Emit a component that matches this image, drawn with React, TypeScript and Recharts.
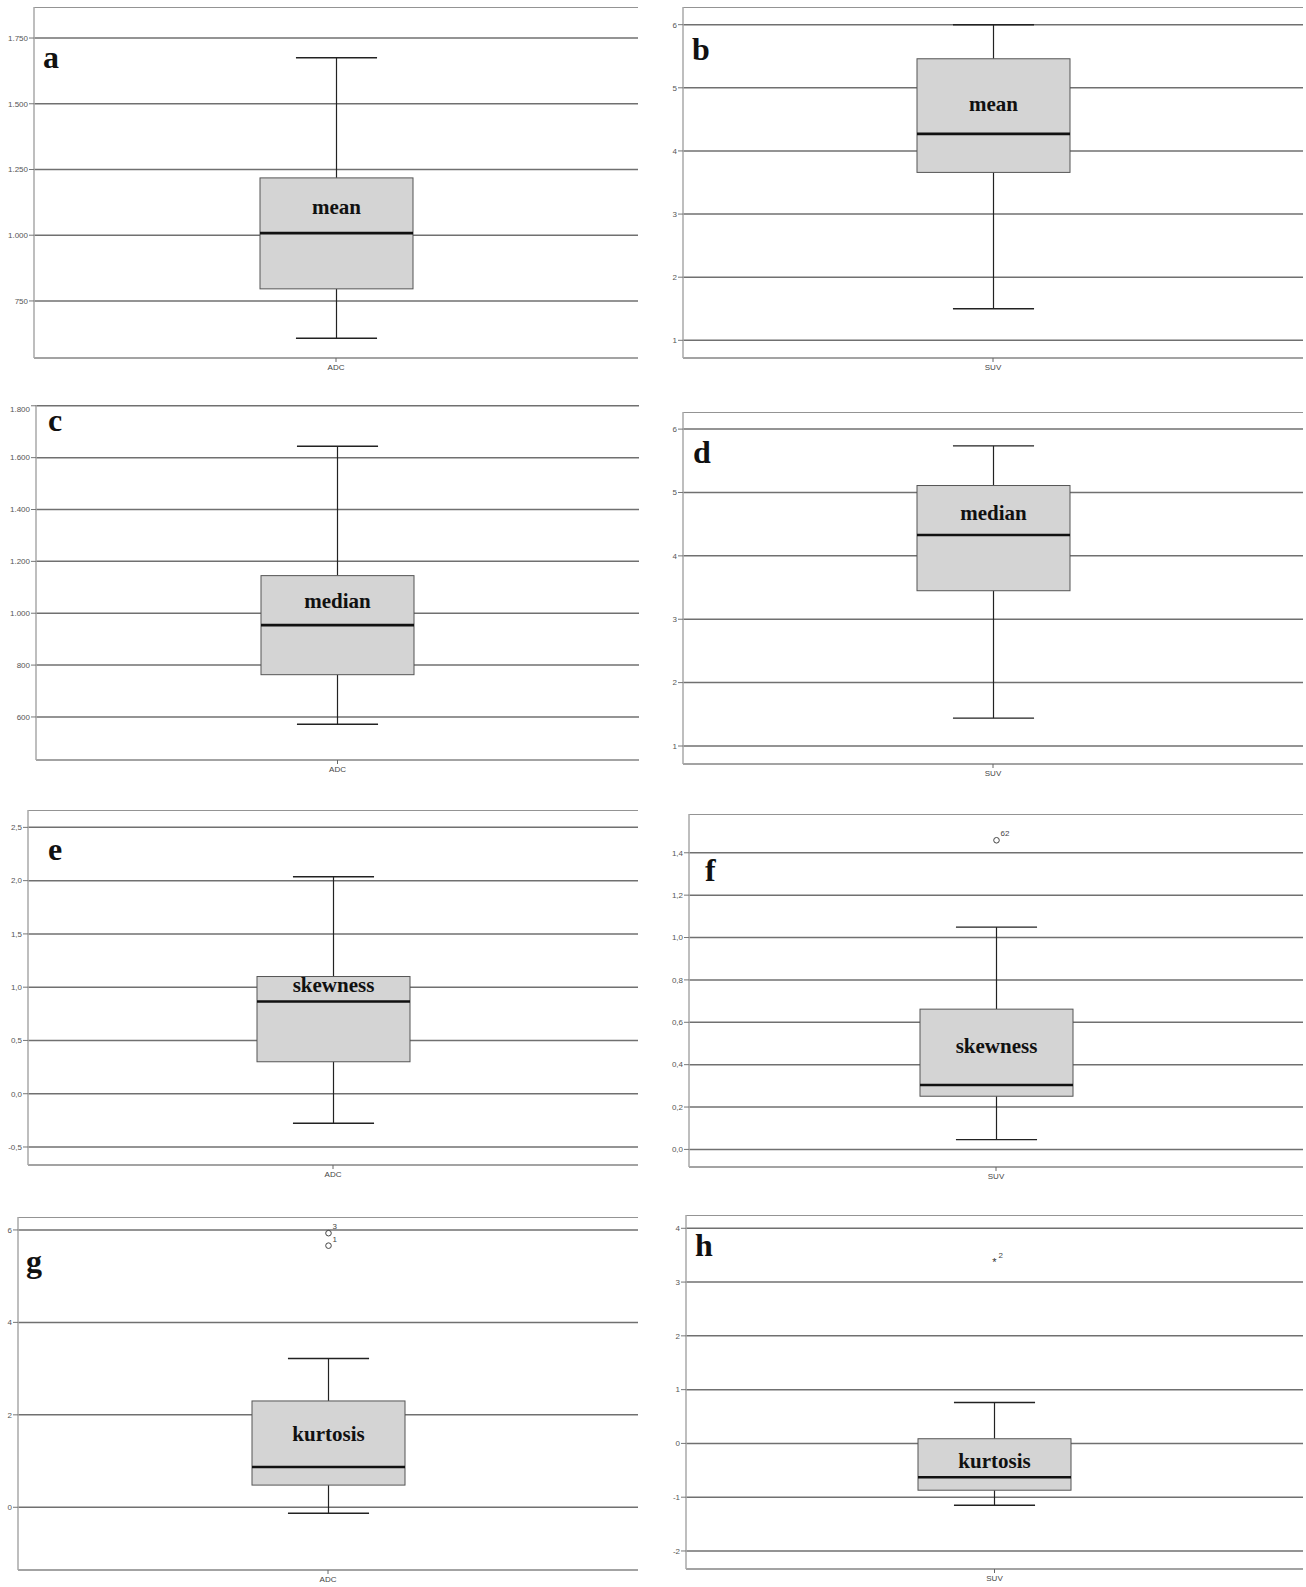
import React from 'react';
import { ComposedChart, Bar, XAxis, YAxis, CartesianGrid } from 'recharts';

// ---------- data ----------
const panelLetters = ['a', 'b', 'c', 'd', 'e', 'f', 'g', 'h'];
const boxLabels = ['mean', 'mean', 'median', 'median', 'skewness', 'skewness', 'kurtosis', 'kurtosis'];
const categoryNames = ['ADC', 'SUV', 'ADC', 'SUV', 'ADC', 'SUV', 'ADC', 'SUV'];

const whiskerLow = [608, 1.5, 572, 1.44, -0.277, 0.046, -0.13, -1.15];
const q1Values = [796, 3.66, 763, 3.45, 0.3, 0.251, 0.48, -0.87];
const medians = [1008, 4.27, 954, 4.33, 0.865, 0.304, 0.87, -0.63];
const q3Values = [1218, 5.46, 1145, 5.11, 1.1, 0.662, 2.3, 0.087];
const whiskerHigh = [1675, 6.0, 1644, 5.735, 2.036, 1.049, 3.22, 0.76];
const boxLabelValues = [1108, 4.75, 1047, 4.68, 1.018, 0.49, 1.595, -0.33];

type Outlier = { value: number; id: string; mark: 'circle' | 'star' };
const outliersF: Outlier[] = [{ value: 1.459, id: '62', mark: 'circle' }];
const outliersG: Outlier[] = [
  { value: 5.93, id: '3', mark: 'circle' },
  { value: 5.66, id: '1', mark: 'circle' },
];
const outliersH: Outlier[] = [{ value: 3.38, id: '2', mark: 'star' }];
const outliers: Outlier[][] = [[], [], [], [], [], outliersF, outliersG, outliersH];

const yDomains: [number, number][] = [
  [533, 1868],
  [0.72, 6.28],
  [434, 1803],
  [0.716, 6.27],
  [-0.669, 2.663],
  [-0.083, 1.583],
  [-1.357, 6.28],
  [-2.335, 4.247],
];

const tickValues: number[][] = [
  [750, 1000, 1250, 1500, 1750],
  [1, 2, 3, 4, 5, 6],
  [600, 800, 1000, 1200, 1400, 1600, 1800],
  [1, 2, 3, 4, 5, 6],
  [-0.5, 0, 0.5, 1, 1.5, 2, 2.5],
  [0, 0.2, 0.4, 0.6, 0.8, 1.0, 1.2, 1.4],
  [0, 2, 4, 6],
  [-2, -1, 0, 1, 2, 3, 4],
];
const tickLabels: string[][] = [
  ['750', '1.000', '1.250', '1.500', '1.750'],
  ['1', '2', '3', '4', '5', '6'],
  ['600', '800', '1.000', '1.200', '1.400', '1.600', '1.800'],
  ['1', '2', '3', '4', '5', '6'],
  ['-0,5', '0,0', '0,5', '1,0', '1,5', '2,0', '2,5'],
  ['0,0', '0,2', '0,4', '0,6', '0,8', '1,0', '1,2', '1,4'],
  ['0', '2', '4', '6'],
  ['-2', '-1', '0', '1', '2', '3', '4'],
];

// ---------- layout (pixels) ----------
const plotRects = [
  { left: 34, right: 638, top: 7, bottom: 358 },
  { left: 683, right: 1303, top: 7, bottom: 358 },
  { left: 36, right: 639, top: 405, bottom: 760 },
  { left: 683, right: 1303, top: 412, bottom: 764 },
  { left: 28, right: 638, top: 810, bottom: 1165 },
  { left: 689, right: 1303, top: 814, bottom: 1167 },
  { left: 18, right: 638, top: 1217, bottom: 1570 },
  { left: 686, right: 1303, top: 1215, bottom: 1569 },
];
const letterPos = [
  { x: 43, y: 68 },
  { x: 692, y: 60 },
  { x: 48, y: 431 },
  { x: 693, y: 463 },
  { x: 48, y: 860 },
  { x: 705, y: 881 },
  { x: 26, y: 1272 },
  { x: 695, y: 1256 },
];

const Y_W = 40;
const X_H = 20;
const SERIF = '"Liberation Serif", "Times New Roman", serif';
const SANS = '"Liberation Sans", Arial, sans-serif';

function BoxShape(props: any) {
  const { x, y, width, height, payload } = props;
  if (!payload) return null;
  const top = Math.min(y, y + height);
  const bottom = Math.max(y, y + height);
  const lo = payload.extentLow;
  const hi = payload.extentHigh;
  const px = (v: number) => bottom - ((v - lo) / (hi - lo)) * (bottom - top);
  const cx = x + width / 2;
  const capHalf = width * 0.265;
  const yLow = px(payload.whiskerLow);
  const yHigh = px(payload.whiskerHigh);
  const yQ1 = px(payload.q1);
  const yQ3 = px(payload.q3);
  const yMed = px(payload.median);
  return (
    <g>
      {/* whiskers */}
      <line x1={cx} x2={cx} y1={yHigh} y2={yQ3} stroke="#222" strokeWidth={1.2} />
      <line x1={cx} x2={cx} y1={yQ1} y2={yLow} stroke="#222" strokeWidth={1.2} />
      <line x1={cx - capHalf} x2={cx + capHalf} y1={yHigh} y2={yHigh} stroke="#222" strokeWidth={1.4} />
      <line x1={cx - capHalf} x2={cx + capHalf} y1={yLow} y2={yLow} stroke="#222" strokeWidth={1.4} />
      {/* box */}
      <rect x={x} y={yQ3} width={width} height={yQ1 - yQ3} fill="#d4d4d4" stroke="#555" strokeWidth={1} />
      <line x1={x} x2={x + width} y1={yMed} y2={yMed} stroke="#111" strokeWidth={2.6} />
      {/* label */}
      <text
        x={cx}
        y={px(payload.labelValue)}
        textAnchor="middle"
        dominantBaseline="central"
        fontFamily={SERIF}
        fontWeight="bold"
        fontSize={21}
        fill="#111"
      >
        {payload.label}
      </text>
      {/* outliers */}
      {payload.outliers.map((o: Outlier, i: number) => {
        const oy = px(o.value);
        return (
          <g key={i}>
            {o.mark === 'circle' ? (
              <circle cx={cx} cy={oy} r={2.8} fill="none" stroke="#444" strokeWidth={1} />
            ) : (
              <text x={cx} y={oy + 4} textAnchor="middle" fontSize={11} fontFamily={SANS} fill="#333">
                *
              </text>
            )}
            <text x={cx + 4} y={oy - 4} fontSize={8} fontFamily={SANS} fill="#444">
              {o.id}
            </text>
          </g>
        );
      })}
    </g>
  );
}

function Panel({ i }: { i: number }) {
  const r = plotRects[i];
  const outs = outliers[i];
  const vals = [whiskerLow[i], whiskerHigh[i], ...outs.map((o) => o.value)];
  const data = [
    {
      cat: categoryNames[i],
      whiskerLow: whiskerLow[i],
      q1: q1Values[i],
      median: medians[i],
      q3: q3Values[i],
      whiskerHigh: whiskerHigh[i],
      labelValue: boxLabelValues[i],
      label: boxLabels[i],
      outliers: outs,
      extentLow: Math.min(...vals),
      extentHigh: Math.max(...vals),
    },
  ];
  const w = Y_W + (r.right - r.left);
  const h = r.bottom - r.top + X_H;
  const ticks = tickValues[i];
  const labels = tickLabels[i];
  const fmt = (v: number) => {
    const k = ticks.findIndex((t) => Math.abs(t - v) < 1e-9);
    return k >= 0 ? labels[k] : String(v);
  };
  return (
    <div style={{ position: 'absolute', left: r.left - Y_W, top: r.top, width: w, height: h }}>
      <ComposedChart width={w} height={h} data={data} margin={{ top: 0, right: 0, bottom: 0, left: 0 }}>
        <CartesianGrid vertical={false} stroke="#707070" strokeWidth={1.5} />
        <XAxis
          dataKey="cat"
          type="category"
          height={X_H}
          tickSize={4}
          tickMargin={2}
          axisLine={{ stroke: '#a8a8a8', strokeWidth: 1.5 }}
          tickLine={{ stroke: '#666' }}
          tick={{ fontSize: 8, fill: '#444', fontFamily: SANS }}
        />
        <YAxis
          type="number"
          domain={yDomains[i]}
          ticks={ticks}
          allowDataOverflow
          width={Y_W}
          tickSize={5}
          tickMargin={1}
          tickFormatter={fmt}
          axisLine={{ stroke: '#a8a8a8', strokeWidth: 1.5 }}
          tickLine={{ stroke: '#777' }}
          tick={{ fontSize: 8, fill: '#555', fontFamily: SANS }}
        />
        <Bar
          dataKey={(d: any) => [d.extentLow, d.extentHigh]}
          barSize={153}
          shape={(p: any) => <BoxShape {...p} />}
          isAnimationActive={false}
        />
      </ComposedChart>
    </div>
  );
}

export default function App() {
  return (
    <div
      style={{
        position: 'absolute',
        left: 0,
        top: 0,
        width: 1306,
        height: 1587,
        background: '#fff',
        overflow: 'hidden',
      }}
    >
      {panelLetters.map((_, i) => (
        <Panel key={i} i={i} />
      ))}
      <svg width={1306} height={1587} style={{ position: 'absolute', left: 0, top: 0, pointerEvents: 'none' }}>
        {panelLetters.map((l, i) => (
          <text
            key={l}
            x={letterPos[i].x}
            y={letterPos[i].y}
            fontFamily={SERIF}
            fontWeight="bold"
            fontSize={32}
            fill="#111"
          >
            {l}
          </text>
        ))}
      </svg>
    </div>
  );
}
